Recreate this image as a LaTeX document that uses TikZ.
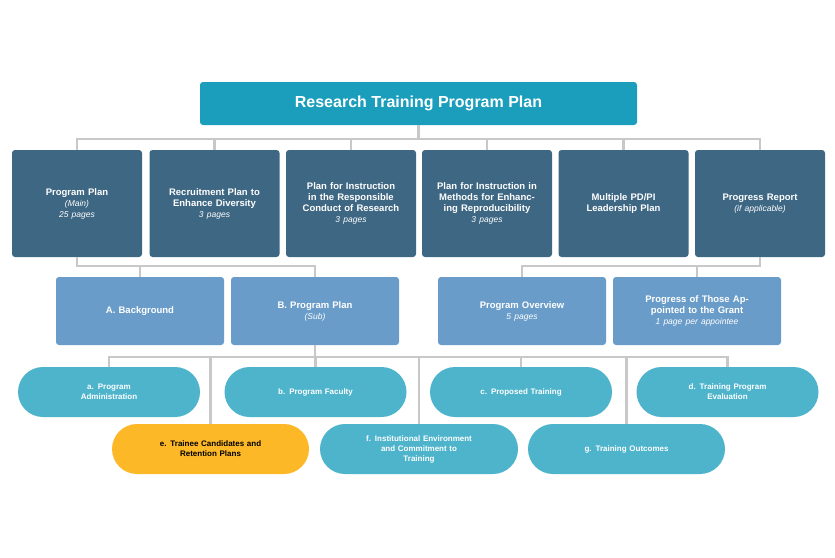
\documentclass[tikz,border=0pt]{standalone}
\usepackage{fontspec}
\setmainfont{Liberation Sans}
\definecolor{teal1}{HTML}{1A9EBC}
\definecolor{dark}{HTML}{3E6783}
\definecolor{mid}{HTML}{699CC8}
\definecolor{pill}{HTML}{4DB4CB}
\definecolor{orng}{HTML}{FDB827}
\definecolor{ln}{HTML}{C8C8C8}
\newcommand\smit[1]{{\normalfont\itshape\fontsize{8.5}{10}\selectfont #1}}
\begin{document}
\begin{tikzpicture}[x=1pt,y=-1pt,
  base/.style={text=white,font=\bfseries\fontsize{9.5}{11}\selectfont,align=center,inner sep=1pt},
  topb/.style={base,fill=teal1,rounded corners=3pt,minimum width=437pt,minimum height=43pt,font=\bfseries\fontsize{16}{18}\selectfont},
  r1/.style={base,fill=dark,rounded corners=3pt,minimum width=130pt,minimum height=107pt,text width=126pt},
  r2/.style={base,fill=mid,rounded corners=3pt,minimum width=168pt,minimum height=68pt,text width=160pt},
  pl/.style={base,fill=pill,rounded corners=25pt,minimum width=182pt,minimum height=50pt,text width=160pt,font=\bfseries\fontsize{8}{10}\selectfont},
  con/.style={ln,line width=2.2pt}]
\useasboundingbox (0,0) rectangle (835,557);
\node[topb] (top) at (418.5,103.5) {Research Training Program Plan};
\node[r1] (p1) at (77,203.5) {Program Plan\\\smit{(Main)}\\\smit{25 pages}};
\node[r1] (p2) at (214.5,203.5) {Recruitment Plan to Enhance Diversity\\\smit{3 pages}};
\node[r1] (p3) at (351,203.5) {Plan for Instruction in the Responsible Conduct of Research\\\smit{3 pages}};
\node[r1] (p4) at (487,203.5) {Plan for Instruction in Methods for Enhancing Reproducibility\\\smit{3 pages}};
\node[r1] (p5) at (623.5,203.5) {Multiple PD/PI Leadership Plan};
\node[r1] (p6) at (760,203.5) {Progress Report\\\smit{(if applicable)}};
\node[r2] (a) at (140,311) {A. Background};
\node[r2] (b) at (315,311) {B. Program Plan\\\smit{(Sub)}};
\node[r2] (o) at (522,311) {Program Overview\\\smit{5 pages}};
\node[r2] (g) at (697,311) {Progress of Those Appointed to the Grant\\\smit{1 page per appointee}};
\node[pl] (sa) at (109,392) {a. Program\\Administration};
\node[pl] (sb) at (315.5,392) {b. Program Faculty};
\node[pl] (sc) at (521,392) {c. Proposed Training};
\node[pl] (sd) at (727.5,392) {d. Training Program\\Evaluation};
\node[pl,fill=orng,minimum width=197pt,text=black] (se) at (210.5,449) {e. Trainee Candidates and\\Retention Plans};
\node[pl,minimum width=198pt] (sf) at (419,449) {f. Institutional Environment\\and Commitment to\\Training};
\node[pl,minimum width=197pt] (sg) at (626.5,449) {g. Training Outcomes};
\coordinate (h1) at (0,139);
\draw[con] (top.south) -- (top.south |- h1);
\draw[con] (p1.north) -- (p1.north |- h1) -| (p6.north);
\foreach \n in {p2,p3,p4,p5} \draw[con] (\n.north) -- (\n.north |- h1);
\coordinate (h2) at (0,266);
\draw[con] (p1.south) -- (p1.south |- h2) -| (b.north);
\draw[con] (a.north) -- (a.north |- h2);
\draw[con] (p6.south) -- (p6.south |- h2) -| (o.north);
\draw[con] (g.north) -- (g.north |- h2);
\coordinate (h3) at (0,357);
\draw[con] (b.south) -- (b.south |- h3);
\draw[con] (sa.north) -- (sa.north |- h3) -| (sd.north);
\foreach \n in {sb,sc,se,sf,sg} \draw[con] (\n.north) -- (\n.north |- h3);
\end{tikzpicture}
\end{document}
